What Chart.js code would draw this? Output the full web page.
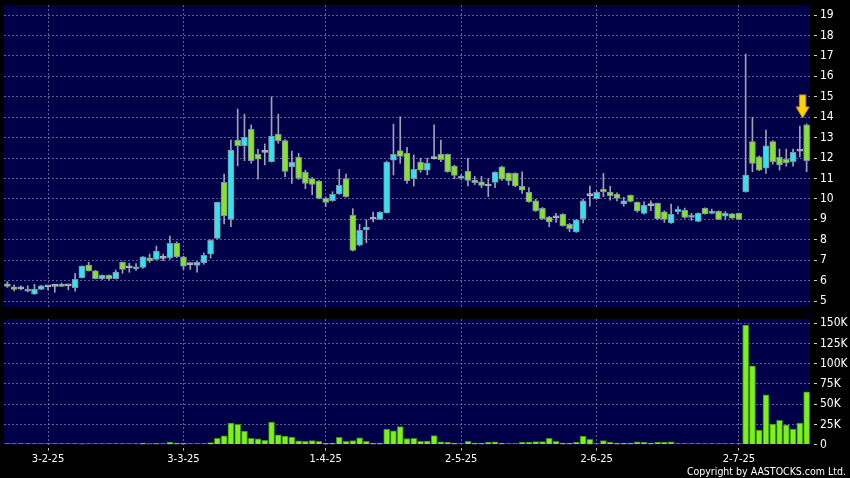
<!DOCTYPE html>
<html>
<head>
<meta charset="utf-8">
<script src="https://cdn.jsdelivr.net/npm/chart.js@4.4.1/dist/chart.umd.min.js"></script>
<style>
  html, body { margin: 0; padding: 0; background: #000; }
  #wrap { position: relative; width: 850px; height: 478px; overflow: hidden; background: #000; }
  #price { position: absolute; left: 0; top: 0; }
  #vol { position: absolute; left: 0; top: 312px; }
  #copy { position: absolute; right: 4px; top: 465px; color: #fff; line-height: 12px;
          font: 10.5px "DejaVu Sans Condensed", "Liberation Sans", sans-serif; }
</style>
</head>
<body>
<div id="wrap">
  <canvas id="price" width="850" height="307"></canvas>
  <canvas id="vol" width="850" height="166"></canvas>
  <div id="copy">Copyright by AASTOCKS.com Ltd.</div>
</div>
<script>
// daily candles, oldest first
const candleOpen = [
  5.85, 5.70, 5.60, 5.57, 5.34, 5.57, 5.70, 5.72, 5.83, 5.75,
  5.65, 6.14, 6.76, 6.48, 6.10, 6.26, 6.10, 6.90, 6.63, 6.57,
  6.65, 7.12, 7.04, 7.09, 7.12, 7.83, 7.17, 6.78, 6.75, 6.88,
  7.30, 8.07, 10.81, 9.00, 12.88, 12.60, 13.41, 12.18, 12.28, 11.82,
  13.16, 12.85, 11.57, 12.03, 11.30, 11.00, 10.87, 10.03, 9.91, 10.25,
  11.00, 9.20, 7.73, 8.49, 9.01, 9.00, 9.32, 11.89, 12.36, 12.23,
  10.99, 11.79, 11.41, 11.97, 12.18, 12.18, 11.61, 11.00, 11.35, 10.92,
  10.83, 10.63, 10.81, 11.57, 11.25, 11.25, 10.61, 10.32, 9.90, 9.54,
  9.11, 9.08, 9.24, 8.75, 8.39, 9.03, 10.16, 10.01, 10.48, 10.34,
  10.24, 9.76, 10.17, 9.83, 9.29, 9.67, 9.78, 9.37, 8.83, 9.37,
  9.44, 9.10, 8.90, 9.54, 9.29, 9.39, 9.16, 9.27, 9.29, 10.35,
  12.80, 12.06, 11.50, 12.80, 12.03, 11.94, 11.82, 12.34, 13.62
];
const candleHigh = [
  5.95, 5.80, 5.74, 5.75, 5.82, 5.77, 5.72, 5.73, 5.88, 5.77,
  6.36, 6.72, 6.90, 6.50, 6.28, 6.28, 6.52, 6.92, 6.86, 6.84,
  7.18, 7.30, 7.69, 7.30, 8.18, 7.90, 7.20, 6.88, 6.95, 7.36,
  8.00, 9.85, 11.22, 12.88, 14.40, 14.15, 13.62, 12.43, 12.69, 15.00,
  14.15, 12.90, 12.34, 12.23, 11.41, 11.05, 10.90, 10.10, 10.35, 11.45,
  11.22, 9.52, 8.76, 8.98, 9.36, 9.38, 11.85, 13.66, 14.02, 12.52,
  12.15, 12.00, 12.00, 13.62, 12.88, 12.20, 11.65, 11.18, 11.99, 11.10,
  11.10, 11.00, 11.32, 11.60, 11.28, 11.28, 11.33, 10.55, 9.98, 9.58,
  9.15, 9.30, 9.28, 8.80, 9.00, 9.99, 10.63, 10.40, 11.25, 10.62,
  10.30, 10.08, 10.20, 9.86, 9.86, 9.91, 9.80, 9.42, 9.75, 9.62,
  9.55, 9.30, 9.32, 9.56, 9.50, 9.42, 9.38, 9.30, 9.31, 17.09,
  13.99, 12.10, 13.37, 12.85, 12.44, 12.44, 12.44, 13.57, 13.67
];
const candleLow = [
  5.67, 5.50, 5.55, 5.45, 5.33, 5.56, 5.55, 5.43, 5.70, 5.55,
  5.49, 6.12, 6.47, 6.08, 6.05, 6.03, 6.08, 6.36, 6.41, 6.50,
  6.60, 6.89, 7.02, 6.98, 7.04, 7.12, 6.55, 6.55, 6.42, 6.80,
  7.10, 8.05, 8.77, 8.64, 11.62, 11.87, 11.75, 10.97, 11.66, 11.80,
  12.72, 11.09, 10.76, 10.95, 10.50, 10.20, 10.00, 9.62, 9.88, 10.22,
  10.08, 7.45, 7.70, 7.85, 8.87, 8.98, 9.30, 11.17, 11.74, 10.76,
  10.63, 11.30, 11.18, 11.95, 11.82, 11.30, 10.98, 10.95, 10.64, 10.70,
  10.55, 10.11, 10.55, 10.90, 10.68, 10.60, 10.27, 9.83, 9.38, 9.00,
  8.64, 8.85, 8.66, 8.40, 8.36, 8.83, 9.65, 9.98, 10.11, 9.94,
  9.90, 9.65, 9.85, 9.35, 9.25, 9.42, 8.98, 8.85, 8.80, 9.26,
  9.05, 8.95, 8.88, 9.25, 9.27, 8.98, 9.00, 9.04, 8.98, 10.33,
  11.33, 11.38, 11.25, 11.70, 11.41, 11.60, 11.60, 12.06, 11.33
];
const candleClose = [
  5.72, 5.57, 5.60, 5.48, 5.59, 5.75, 5.70, 5.72, 5.72, 5.75,
  6.06, 6.71, 6.48, 6.10, 6.26, 6.10, 6.42, 6.55, 6.63, 6.68,
  7.17, 6.97, 7.45, 7.09, 7.83, 7.17, 6.71, 6.78, 6.90, 7.24,
  7.97, 9.83, 9.18, 12.39, 12.60, 13.01, 11.87, 11.95, 12.28, 13.08,
  12.85, 11.35, 11.79, 11.00, 10.76, 10.71, 10.03, 9.83, 10.22, 10.66,
  10.11, 7.48, 8.46, 8.62, 9.01, 9.34, 11.80, 12.18, 12.08, 10.89,
  11.45, 11.41, 11.74, 11.97, 11.92, 11.33, 11.15, 11.12, 10.91, 10.79,
  10.66, 10.63, 11.30, 10.96, 10.89, 10.63, 10.43, 9.86, 9.42, 9.03,
  8.87, 9.08, 8.69, 8.54, 8.97, 9.90, 10.16, 10.32, 10.35, 10.16,
  10.03, 9.90, 9.88, 9.41, 9.68, 9.67, 9.03, 9.00, 9.24, 9.49,
  9.10, 9.20, 9.29, 9.27, 9.41, 9.00, 9.29, 9.06, 9.00, 11.17,
  11.74, 11.41, 12.60, 11.82, 11.66, 11.77, 12.28, 12.34, 11.87
];
// turnover in thousands of shares
const volumeK = [
  0.3, 0.3, 0.2, 0.3, 0.5, 0.3, 0.2, 0.3, 0.3, 0.2,
  1.2, 1.3, 1.2, 0.5, 0.3, 0.3, 1.2, 1.0, 1.2, 0.4,
  2.0, 1.3, 1.5, 1.0, 3.0, 1.8, 1.6, 0.5, 0.6, 1.2,
  2.5, 7.8, 10.8, 26.6, 25.2, 16.6, 7.8, 7.2, 5.2, 27.8,
  12.0, 10.4, 9.2, 4.6, 4.2, 5.0, 4.1, 2.0, 2.0, 9.0,
  4.1, 5.0, 8.4, 4.1, 1.6, 1.6, 19.1, 17.0, 22.4, 7.5,
  7.9, 4.1, 4.5, 11.2, 3.3, 2.9, 2.0, 0.5, 4.1, 2.0,
  1.6, 2.9, 3.3, 1.6, 1.0, 0.8, 2.9, 2.9, 3.7, 3.7,
  7.9, 4.1, 2.0, 1.6, 2.9, 10.4, 6.6, 0.5, 5.0, 2.9,
  2.0, 2.0, 2.0, 3.3, 2.9, 2.0, 2.9, 2.9, 3.3, 0.8,
  0.8, 0.5, 0.5, 0.5, 1.0, 1.0, 1.0, 1.0, 1.2, 147.9,
  97.5, 17.9, 61.6, 25.4, 30.0, 24.6, 19.1, 26.6, 65.4
];
// month labels and the candle they sit under
const tickAt = [6, 26, 47, 67, 87, 108];
const tickText = ['3-2-25', '3-3-25', '1-4-25', '2-5-25', '2-6-25', '2-7-25'];

const days = candleOpen.map((_, i) => i);

const NAVY = '#000048';
const GRID = 'rgba(110,110,170,0.85)';
const UP = '#2fe3f2';
const DOWN = '#86e22c';
const DOJI = '#b4b4c4';
const FONT = '"DejaVu Sans Condensed", "Liberation Sans", sans-serif';

const panelBg = {
  id: 'panelBg',
  beforeDraw(chart) {
    const { ctx, chartArea: a } = chart;
    ctx.save();
    ctx.fillStyle = NAVY;
    ctx.fillRect(a.left, a.top, a.right - a.left, a.bottom - a.top);
    ctx.restore();
  }
};

// yellow arrow above the latest candle
const arrowMark = {
  id: 'arrowMark',
  afterDatasetsDraw(chart) {
    const i = candleHigh.length - 1;
    const x = chart.scales.x.getPixelForValue(i) - 4;
    const y = chart.scales.y.getPixelForValue(candleHigh[i]) - 6;
    const ctx = chart.ctx;
    ctx.save();
    ctx.beginPath();
    ctx.moveTo(x, y);
    ctx.lineTo(x - 6.5, y - 11);
    ctx.lineTo(x - 3.2, y - 11);
    ctx.lineTo(x - 3.2, y - 23);
    ctx.lineTo(x + 3.2, y - 23);
    ctx.lineTo(x + 3.2, y - 11);
    ctx.lineTo(x + 6.5, y - 11);
    ctx.closePath();
    ctx.fillStyle = '#ffd400';
    ctx.fill();
    ctx.strokeStyle = '#d08a00';
    ctx.lineWidth = 1;
    ctx.stroke();
    ctx.restore();
  }
};

const isMonth = (i) => tickAt.includes(i);

const bodyColor = (i) => {
  if (candleClose[i] > candleOpen[i]) return UP;
  if (candleClose[i] < candleOpen[i]) return DOWN;
  return DOJI;
};

// right axis: fixed width, no extra room for end labels
const fitRight = (s) => {
  s.width = 40;
  s.paddingTop = 0;
  s.paddingBottom = 0;
};

new Chart(document.getElementById('price'), {
  type: 'bar',
  data: {
    labels: days,
    datasets: [
      {
        data: candleOpen.map((o, i) => [Math.min(o, candleClose[i]), Math.max(o, candleClose[i])]),
        backgroundColor: (c) => bodyColor(c.dataIndex),
        borderColor: (c) => bodyColor(c.dataIndex) === DOJI ? DOJI : '#8290a4',
        borderWidth: 1,
        borderSkipped: false,
        barThickness: 6,
        minBarLength: 2,
        grouped: false,
        order: 0
      },
      {
        data: candleHigh.map((h, i) => [candleLow[i], h]),
        backgroundColor: '#a0a0b4',
        barThickness: 1,
        grouped: false,
        order: 1
      }
    ]
  },
  options: {
    responsive: false,
    animation: false,
    layout: { padding: { left: 4, top: 5, right: 0, bottom: 0 } },
    plugins: { legend: { display: false }, tooltip: { enabled: false } },
    scales: {
      x: {
        offset: true,
        grid: {
          offset: false,
          color: (c) => isMonth(c.index) ? GRID : 'transparent',
          drawTicks: false
        },
        border: { display: false, dash: [2, 2] },
        ticks: { display: false, autoSkip: false },
        afterFit: (s) => { s.height = 0; s.paddingLeft = 0; s.paddingRight = 0; }
      },
      y: {
        position: 'right',
        min: 4.71,
        max: 19.49,
        grid: {
          color: GRID,
          tickColor: '#d0d0d0',
          tickLength: 7,
          tickBorderDash: [0, 4, 3]
        },
        border: { display: false, dash: [2, 2] },
        ticks: {
          stepSize: 1,
          includeBounds: false,
          color: '#ffffff',
          padding: 3,
          font: { family: FONT, size: 12 }
        },
        afterFit: fitRight
      }
    }
  },
  plugins: [panelBg, arrowMark]
});

new Chart(document.getElementById('vol'), {
  type: 'bar',
  data: {
    labels: days,
    datasets: [{
      data: volumeK,
      backgroundColor: '#7cf21a',
      borderColor: '#3f8a12',
      borderWidth: 1,
      borderSkipped: 'start',
      barThickness: 6,
      minBarLength: 1
    }]
  },
  options: {
    responsive: false,
    animation: false,
    layout: { padding: { left: 4, top: 7, right: 0, bottom: 10.2 } },
    plugins: { legend: { display: false }, tooltip: { enabled: false } },
    scales: {
      x: {
        offset: true,
        grid: {
          offset: false,
          color: (c) => isMonth(c.index) ? GRID : 'transparent',
          tickColor: (c) => isMonth(c.index) ? '#bbbbbb' : 'transparent',
          tickLength: 6,
          tickBorderDash: [0, 3, 3]
        },
        border: { display: false, dash: [2, 2] },
        ticks: {
          autoSkip: false,
          maxRotation: 0,
          minRotation: 0,
          padding: 2,
          color: '#ffffff',
          font: { family: FONT, size: 11 },
          callback: (v, i) => {
            const k = tickAt.indexOf(i);
            return k >= 0 ? tickText[k] : '';
          }
        },
        afterFit: (s) => { s.paddingLeft = 0; s.paddingRight = 0; }
      },
      y: {
        position: 'right',
        min: 0,
        max: 155.4,
        grid: {
          color: (c) => c.tick.value === 0 ? 'transparent' : GRID,
          tickColor: '#d0d0d0',
          tickLength: 7,
          tickBorderDash: [0, 4, 3]
        },
        border: { display: false, dash: [2, 2] },
        ticks: {
          stepSize: 25,
          includeBounds: false,
          color: '#ffffff',
          padding: 3,
          font: { family: FONT, size: 12 },
          callback: (v) => v === 0 ? '0' : v + 'K'
        },
        afterFit: fitRight
      }
    }
  },
  plugins: [panelBg]
});
</script>
</body>
</html>
